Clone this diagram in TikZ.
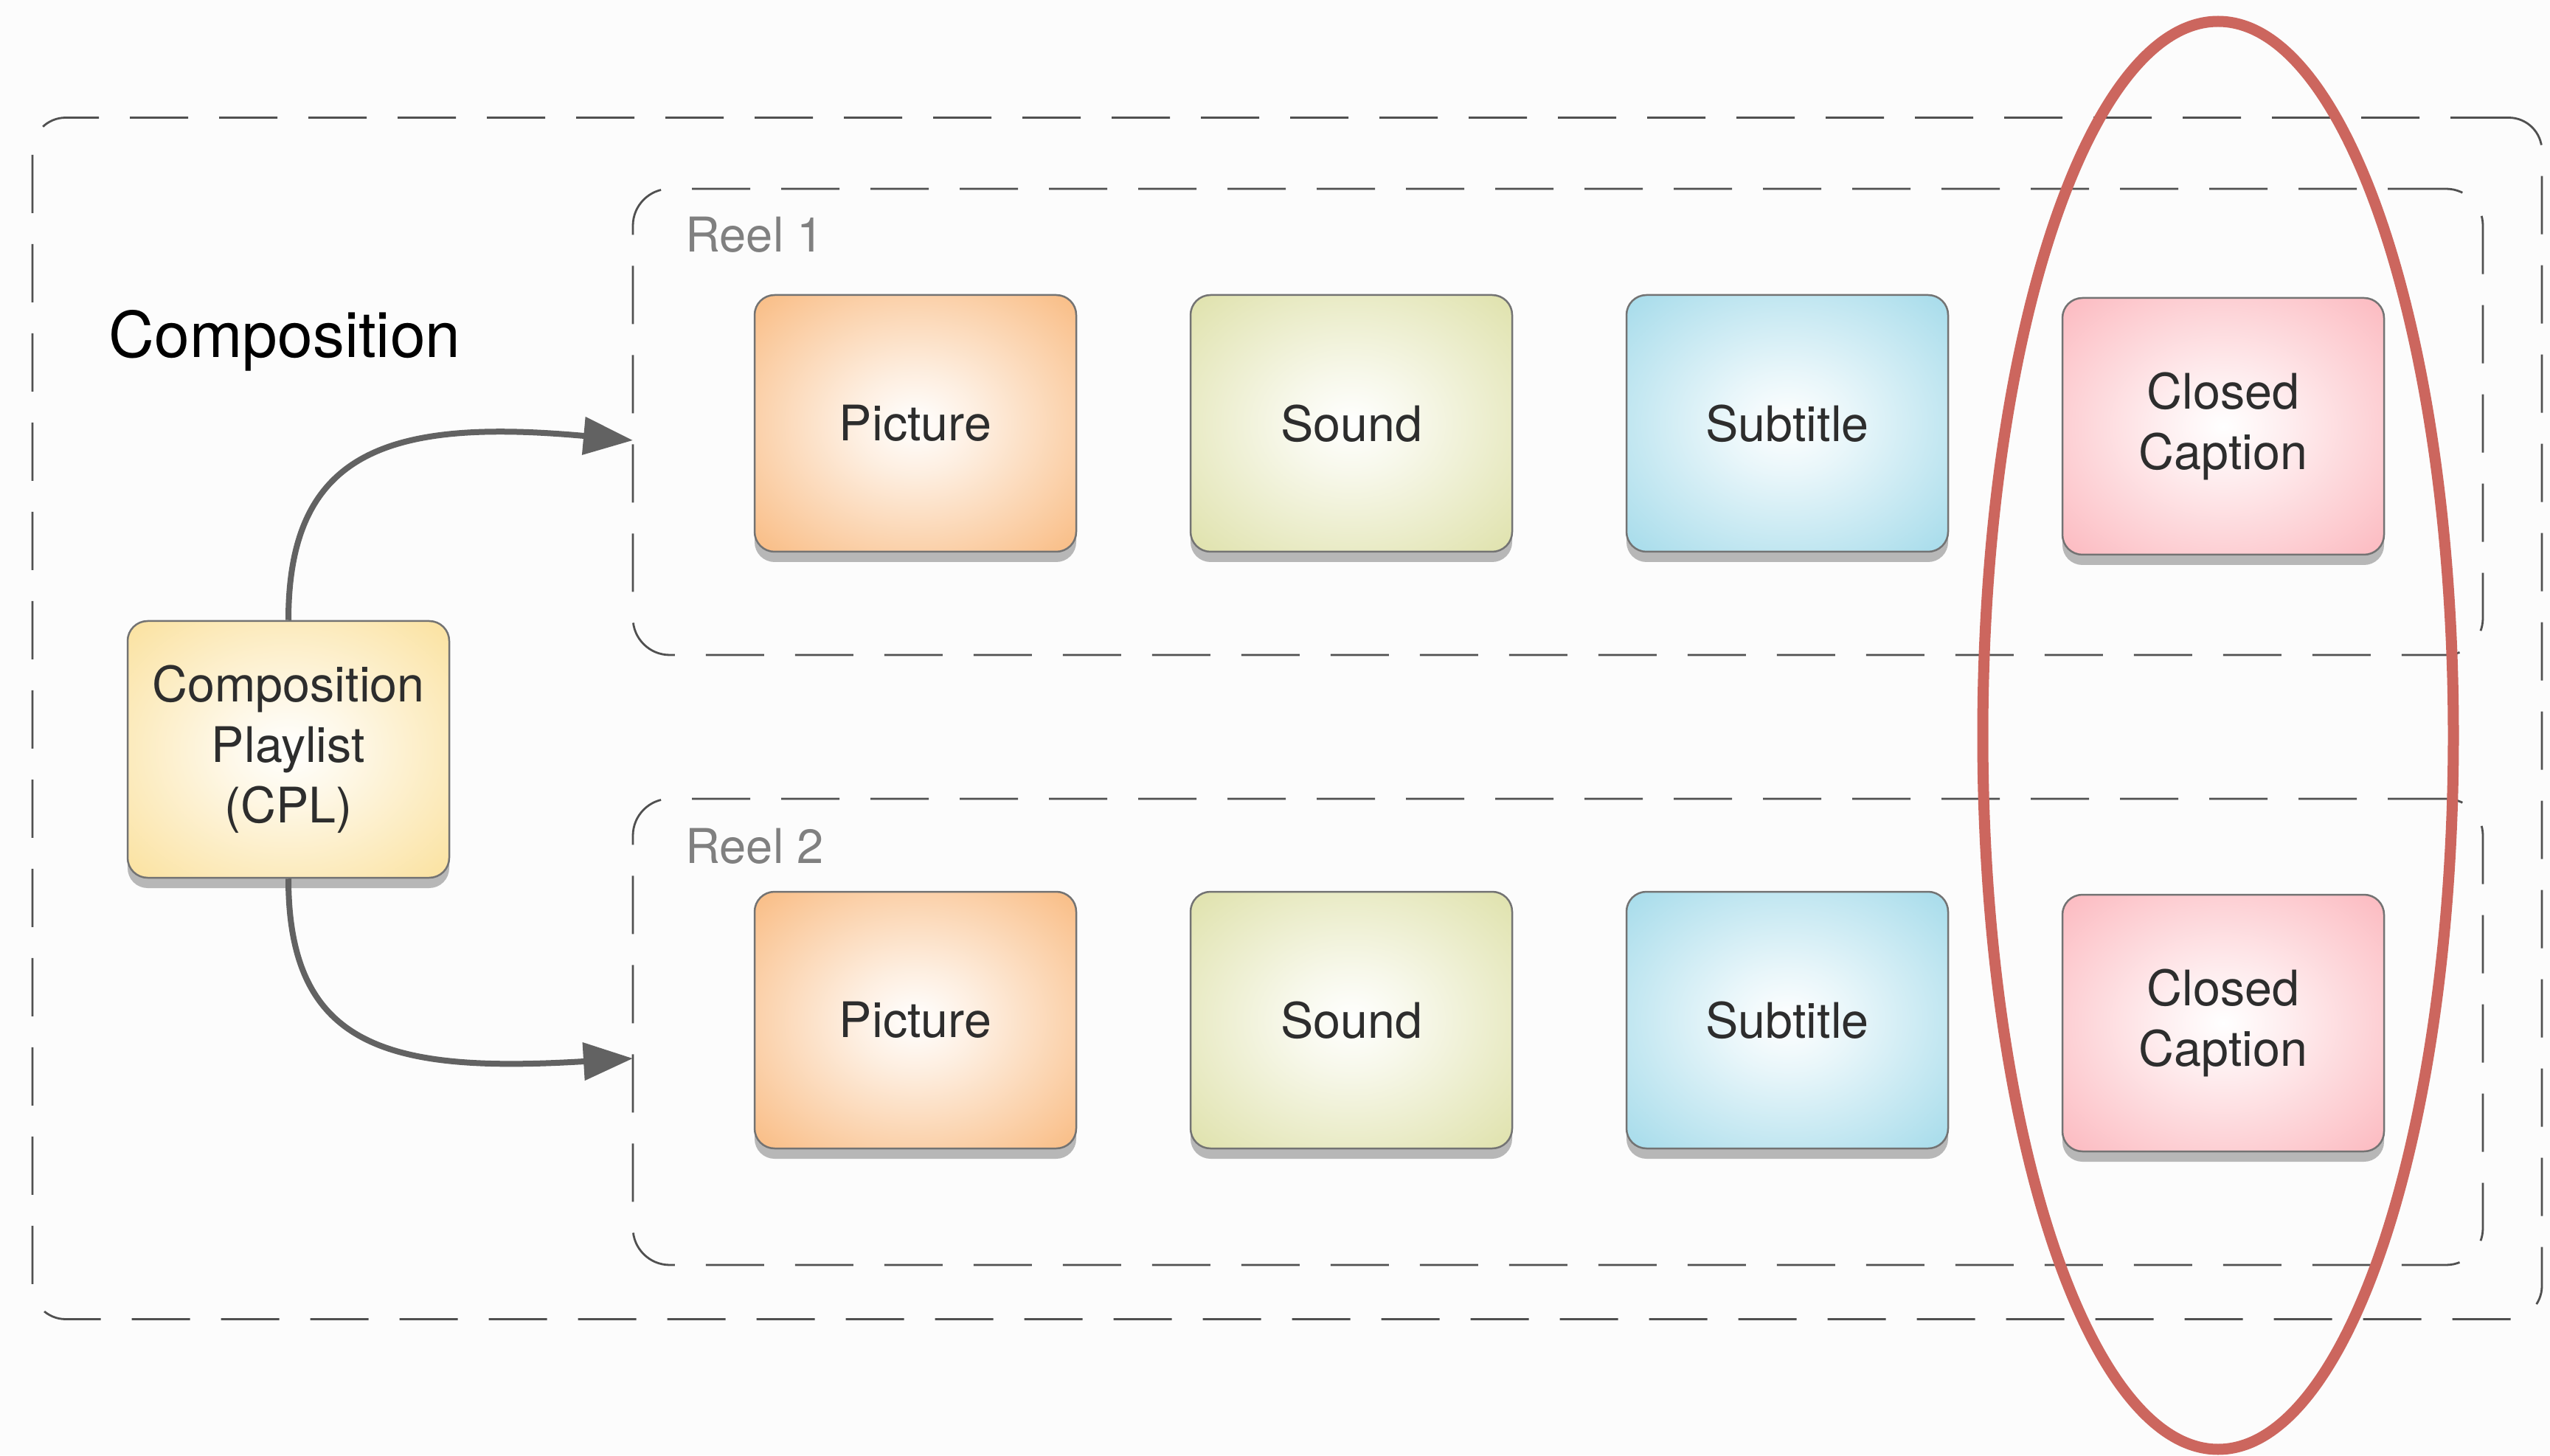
\documentclass[tikz,border=0pt]{standalone}
\usepackage{fontspec}
\setmainfont{TeX Gyre Heros}
\usetikzlibrary{arrows.meta,shadows}

\definecolor{picorange}{RGB}{245,148,58}
\definecolor{soundolive}{RGB}{204,208,122}
\definecolor{subblue}{RGB}{112,198,222}
\definecolor{ccpink}{RGB}{250,144,154}
\definecolor{cplgold}{RGB}{248,208,102}
\definecolor{ringred}{RGB}{204,102,94}
\definecolor{frameline}{RGB}{80,80,80}
\definecolor{arrowgray}{RGB}{98,98,98}
\definecolor{inkgray}{RGB}{45,45,45}

\newcommand{\glowshading}[2]{%
  \pgfdeclareradialshading{#1}{\pgfpoint{0bp}{0bp}}{color(0bp)=(white);
    color(10bp)=(#2!16!white); color(35bp)=(#2!62!white);
    color(50bp)=(#2!88!white); color(66bp)=(#2)}}
\glowshading{picglow}{picorange}
\glowshading{soundglow}{soundolive}
\glowshading{subglow}{subblue}
\glowshading{ccglow}{ccpink}
\glowshading{cplglow}{cplgold}

\tikzset{
  card/.style={rectangle, rounded corners=0.27cm, draw=black!55, line width=0.025cm,
    minimum width=4.36cm, minimum height=3.48cm, align=center, text=inkgray,
    font=\fontsize{18.9}{23.3}\selectfont,
    drop shadow={shadow xshift=0cm, shadow yshift=-0.14cm, opacity=0.55}},
  picturecard/.style={card, shading=picglow},
  soundcard/.style={card, shading=soundglow},
  subcard/.style={card, shading=subglow},
  cccard/.style={card, shading=ccglow},
  reelframe/.style={rectangle, rounded corners=0.5cm, draw=frameline, line width=0.028cm,
    dash pattern=on 0.79cm off 0.42cm, minimum width=25.08cm, minimum height=6.32cm},
  reeltag/.style={anchor=base west, text=black!50, font=\fontsize{18.5}{22}\selectfont},
  feed/.style={draw=arrowgray, line width=0.08cm, -{Triangle[length=0.67cm,width=0.5cm]}},
  ring/.style={draw=ringred, line width=0.15cm}
}

\begin{document}
\begin{tikzpicture}
    \fill[black!1] (0,0) rectangle (34.57,19.73);
    \useasboundingbox (0,0) rectangle (34.57,19.73);
    % outer composition frame
    \node[reelframe, rounded corners=0.45cm, minimum width=34.02cm, minimum height=16.29cm] (frame) at (17.45,9.99) {};
    \node[anchor=base west, font=\fontsize{24.4}{29}\selectfont] (title) at (1.35,14.88) {Composition};
    \node[card, shading=cplglow] (cpl) at (3.91,9.57) {Composition\\Playlist\\(CPL)};
    % reels
    \node[reelframe] (reel1) at (21.12,14.01) {};
    \node[reelframe] (reel2) at (21.12,5.74) {};
    \node[reeltag] (tag1) at (9.17,16.31) {Reel 1};
    \node[reeltag] (tag2) at (9.17,8.02) {Reel 2};
    \node[picturecard] (pic1) at (12.41,13.99) {Picture};
    \node[soundcard] (snd1) at (18.32,13.99) {Sound};
    \node[subcard] (sub1) at (24.23,13.99) {Subtitle};
    \node[cccard] (cc1) at (30.14,13.95) {Closed\\Caption};
    \node[picturecard] (pic2) at (12.41,5.90) {Picture};
    \node[soundcard] (snd2) at (18.32,5.90) {Sound};
    \node[subcard] (sub2) at (24.23,5.90) {Subtitle};
    \node[cccard] (cc2) at (30.14,5.86) {Closed\\Caption};
    % links from the playlist
    \coordinate (dock1) at (8.58,13.76);
    \coordinate (dock2) at (8.58,5.38);
    \draw[feed] (cpl.north) .. controls +(0,2.3) and +(-3.3,0.3) .. (dock1);
    \draw[feed] (cpl.south) .. controls +(0,-2.3) and +(-3.3,-0.2) .. (dock2);
    % highlight
    \draw[ring] (30.07,9.76) ellipse [x radius=3.19, y radius=9.68];
\end{tikzpicture}
\end{document}
